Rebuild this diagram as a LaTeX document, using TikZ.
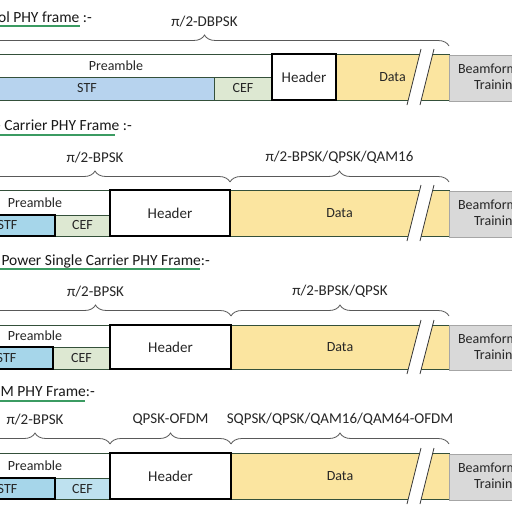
\documentclass[tikz,border=0pt]{standalone}
\usepackage{fontspec}
\setmainfont{Carlito}
\usepackage{xcolor}
\usetikzlibrary{positioning, calc, decorations.pathreplacing}

\definecolor{stfsoft}{HTML}{B7D3EE}
\definecolor{stfcyan}{HTML}{A6D6EA}
\definecolor{cefgreen}{HTML}{DDE8D2}
\definecolor{cefcyan}{HTML}{BEE1EF}
\definecolor{datayellow}{HTML}{FBE5A0}
\definecolor{bfgray}{HTML}{D9D9D9}
\definecolor{framegreen}{HTML}{34503A}
\definecolor{titlegreen}{HTML}{3B9B62}

\tikzset{
  field/.style={draw=framegreen, line width=0.8pt, inner sep=0pt, outer sep=0pt,
    anchor=north west, text=black!85, font=\fontsize{14}{16}\selectfont},
  heavyfield/.style={field, draw=black, line width=2pt},
  hdrfield/.style={heavyfield, fill=white, font=\fontsize{15}{17}\selectfont},
  bffield/.style={field, draw=black!35, fill=bfgray, align=center,
    font=\fontsize{14}{16}\selectfont},
  brc/.style={draw=black!65, line width=0.8pt, decorate,
    decoration={brace, amplitude=11pt}},
  modlbl/.style={inner sep=1pt, text=black!85, font=\fontsize{15}{17}\selectfont},
  ttl/.style={anchor=base east, inner sep=0pt, text=black!90,
    font=\fontsize{15.5}{18}\selectfont},
  uline/.style={draw=titlegreen, line width=1.2pt},
  cutline/.style={draw=black!80, line width=0.8pt},
}

\begin{document}
\begin{tikzpicture}[x=1pt, y=-1pt]
  \useasboundingbox (0,0) rectangle (512,512);
  \fill[white] (0,0) rectangle (512,512);
  \clip (0,0) rectangle (512,512);

  % control PHY
  \node[ttl] (t1) at (92,22) {Control PHY frame :-};
  \draw[uline] (-5,26) -- (80,26);
  \node[field, fill=white, minimum width=312, minimum height=23] (pre1) at (-40,54) {Preamble};
  \node[field, fill=stfsoft, minimum width=254, minimum height=23] (stf1) at (-40,77) {STF};
  \node[field, fill=cefgreen, minimum width=58, minimum height=23] (cef1) at (214,77) {CEF};
  \node[field, fill=datayellow, minimum width=113, minimum height=46] (data1) at (336,54) {Data};
  \node[hdrfield, minimum width=64, minimum height=46] (hdr1) at (272,54) {Header};
  \node[bffield, minimum width=95, minimum height=46] (bf1) at (449,55) {Beamforming\\Training};
  \draw[brc] ($(pre1.north west)+(0,-8)$) -- ($(data1.north east)+(0,-8)$)
    node[modlbl, midway, above=17pt] (m1) {π/2-DBPSK};
  \fill[white] (421,49) -- (434,49) -- (420,105) -- (407,105) -- cycle;
  \draw[cutline] (421,49) -- (407,105) (434,49) -- (420,105);

  % single carrier PHY
  \node[ttl] (t2) at (132,130) {Single Carrier PHY Frame :-};
  \draw[uline] (-5,135) -- (115,135);
  \node[field, fill=white, minimum width=150, minimum height=25] (pre2) at (-40,190) {Preamble};
  \node[field, fill=cefgreen, minimum width=55, minimum height=21] (cef2) at (55,215) {CEF};
  \node[heavyfield, fill=stfcyan, minimum width=95, minimum height=21] (stf2) at (-40,215) {STF};
  \node[field, fill=datayellow, minimum width=219, minimum height=46] (data2) at (230,190) {Data};
  \node[hdrfield, minimum width=120, minimum height=46] (hdr2) at (110,190) {Header};
  \node[bffield, minimum width=95, minimum height=46] (bf2) at (449,191) {Beamforming\\Training};
  \draw[brc] ($(pre2.north west)+(0,-8)$) -- ($(hdr2.north east)+(0,-8)$)
    node[modlbl, midway, above=17pt] (m2a) {π/2-BPSK};
  \draw[brc] ($(data2.north west)+(0,-8)$) -- ($(data2.north east)+(0,-8)$)
    node[modlbl, midway, above=17pt] (m2b) {π/2-BPSK/QPSK/QAM16};
  \fill[white] (421,185) -- (434,185) -- (420,241) -- (407,241) -- cycle;
  \draw[cutline] (421,185) -- (407,241) (434,185) -- (420,241);

  % low power single carrier PHY
  \node[ttl] (t3) at (210,265) {Low Power Single Carrier PHY Frame:-};
  \draw[uline] (-5,269) -- (200,269);
  \node[field, fill=white, minimum width=150, minimum height=22] (pre3) at (-40,325) {Preamble};
  \node[field, fill=cefgreen, minimum width=57, minimum height=22] (cef3) at (53,347) {CEF};
  \node[heavyfield, fill=stfcyan, minimum width=93, minimum height=22] (stf3) at (-40,347) {STF};
  \node[field, fill=datayellow, minimum width=218, minimum height=44] (data3) at (231,325) {Data};
  \node[hdrfield, minimum width=121, minimum height=44] (hdr3) at (110,325) {Header};
  \node[bffield, minimum width=95, minimum height=45] (bf3) at (449,325) {Beamforming\\Training};
  \draw[brc] ($(pre3.north west)+(0,-9)$) -- ($(hdr3.north east)+(0,-9)$)
    node[modlbl, midway, above=17pt] (m3a) {π/2-BPSK};
  \draw[brc] ($(data3.north west)+(0,-9)$) -- ($(data3.north east)+(0,-9)$)
    node[modlbl, midway, above=17pt] (m3b) {π/2-BPSK/QPSK};
  \fill[white] (421,320) -- (434,320) -- (420,374) -- (407,374) -- cycle;
  \draw[cutline] (421,320) -- (407,374) (434,320) -- (420,374);

  % OFDM PHY
  \node[ttl] (t4) at (95,396) {OFDM PHY Frame:-};
  \draw[uline] (-5,401) -- (85,401);
  \node[field, fill=white, minimum width=150, minimum height=25] (pre4) at (-40,453) {Preamble};
  \node[field, fill=cefcyan, minimum width=55, minimum height=21] (cef4) at (55,478) {CEF};
  \node[heavyfield, fill=stfcyan, minimum width=95, minimum height=21] (stf4) at (-40,478) {STF};
  \node[field, fill=datayellow, minimum width=218, minimum height=46] (data4) at (231,453) {Data};
  \node[hdrfield, minimum width=121, minimum height=46] (hdr4) at (110,453) {Header};
  \node[bffield, minimum width=95, minimum height=46] (bf4) at (449,454) {Beamforming\\Training};
  \draw[brc] ($(pre4.north west)+(0,-9)$) -- ($(pre4.north east)+(0,-9)$)
    node[modlbl, midway, above=17pt] (m4a) {π/2-BPSK};
  \draw[brc] ($(hdr4.north west)+(0,-9)$) -- ($(hdr4.north east)+(0,-9)$)
    node[modlbl, midway, above=17pt] (m4b) {QPSK-OFDM};
  \draw[brc] ($(data4.north west)+(0,-9)$) -- ($(data4.north east)+(0,-9)$)
    node[modlbl, midway, above=17pt] (m4c) {SQPSK/QPSK/QAM16/QAM64-OFDM};
  \fill[white] (421,448) -- (434,448) -- (420,504) -- (407,504) -- cycle;
  \draw[cutline] (421,448) -- (407,504) (434,448) -- (420,504);
\end{tikzpicture}
\end{document}
